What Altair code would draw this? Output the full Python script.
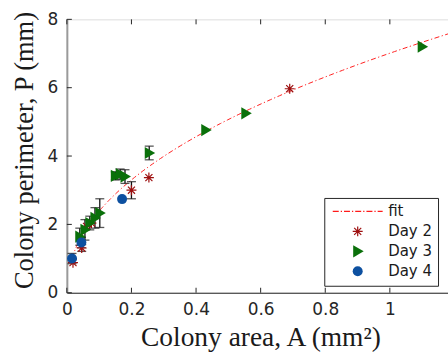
import altair as alt
import numpy as np
import pandas as pd

# ---------------- data ----------------
series_names = ["fit", "Day 2", "Day 3", "Day 4"]

day2_area = [0.019, 0.046, 0.061, 0.076, 0.200, 0.254, 0.690]
day2_perim = [0.88, 1.31, 1.94, 2.04, 3.00, 3.37, 5.97]
day2_err = [0.00, 0.10, 0.00, 0.00, 0.25, 0.00, 0.00]

day3_area = [0.040, 0.056, 0.071, 0.087, 0.102, 0.150, 0.165, 0.180, 0.255, 0.430, 0.554, 1.100]
day3_perim = [1.64, 1.84, 2.04, 2.19, 2.33, 3.42, 3.47, 3.40, 4.09, 4.76, 5.25, 7.20]
day3_err = [0.25, 0.30, 0.20, 0.30, 0.42, 0.12, 0.15, 0.20, 0.20, 0.00, 0.00, 0.00]

day4_area = [0.016, 0.045, 0.171]
day4_perim = [1.00, 1.47, 2.74]
day4_err = [0.15, 0.15, 0.00]

x_ticks = [0, 0.2, 0.4, 0.6, 0.8, 1.0]
y_ticks = [0, 2, 4, 6, 8]
x_domain = [0, 1.18]
y_domain = [0, 8]

# ---------------- tables ----------------
rows = []
for name, A, P, E in [("Day 2", day2_area, day2_perim, day2_err),
                      ("Day 3", day3_area, day3_perim, day3_err),
                      ("Day 4", day4_area, day4_perim, day4_err)]:
    for a, p, e in zip(A, P, E):
        rows.append({"series": name, "A": a, "P": p, "lo": p - e, "hi": p + e, "E": e})
df = pd.DataFrame(rows)
df_err = df[df["E"] > 0]
xt = pd.DataFrame({"v": x_ticks})
yt = pd.DataFrame({"v": y_ticks})

# power-law fit P = a * A^b, least squares in linear space (Gauss-Newton on the data)
Aall = df["A"].to_numpy()
Pall = df["P"].to_numpy()
b_fit, loga = np.polyfit(np.log(Aall), np.log(Pall), 1)
a_fit = float(np.exp(loga))
for _ in range(200):
    f = a_fit * Aall ** b_fit
    J = np.column_stack([Aall ** b_fit, a_fit * Aall ** b_fit * np.log(Aall)])
    step = np.linalg.lstsq(J, Pall - f, rcond=None)[0]
    a_fit += step[0]
    b_fit += step[1]
fit_A = np.geomspace(Aall.min(), x_domain[1], 200)
fit_df = pd.DataFrame({"A": fit_A, "P": a_fit * fit_A ** b_fit})

# ---------------- marker shapes (style) ----------------
def rect_path(pts):
    return "M" + "L".join(f"{x:.3f},{y:.3f}" for x, y in pts) + "Z"

w = 0.12
r2 = 2 ** 0.5
arm = [(-1, -w), (1, -w), (1, w), (-1, w)]
asterisk = "".join([
    rect_path(arm),
    rect_path([(-y, x) for x, y in arm]),
    rect_path([((x - y) / r2, (x + y) / r2) for x, y in arm]),
    rect_path([((x + y) / r2, (-x + y) / r2) for x, y in arm]),
])
triangle = "M-0.9,-1.22L1.2,0L-0.9,1.22Z"
circle = "circle"

# dash-dot legend line; symbol unit = 5 px, spans -5..5 (50 px)
h = 0.13
segs = []
pos = -5.0
pattern = [(1.2, True), (0.4, False), (0.25, True), (0.4, False)]
i = 0
while pos < 5.0:
    length, on = pattern[i % 4]
    end = min(pos + length, 5.0)
    if on:
        segs.append(rect_path([(pos, -h), (end, -h), (end, h), (pos, h)]))
    pos = end
    i += 1
dashdot = "".join(segs)

colors = ["#ff1a1a", "#9e1010", "#0a700a", "#0d50a0"]
shapes = [dashdot, asterisk, triangle, circle]

legend = alt.Legend(
    title=None, orient="none", legendX=258, legendY=179,
    fillColor="white", strokeColor="#262626", padding=6,
    labelFont="DejaVu Sans", labelFontSize=15, labelColor="#1a1a1a",
    symbolSize=100, symbolOffset=20, labelOffset=23,
    rowPadding=4, clipHeight=15, symbolStrokeWidth=0, symbolOpacity=1,
)

TXT = "#262626"

x_axis = alt.Axis(
    values=x_ticks, format="~g", ticks=False, grid=False,
    labelFont="DejaVu Sans", labelFontSize=17, labelColor=TXT, labelPadding=9,
    labelFlush=False, labelOverlap=False, domainColor=TXT, domainWidth=1,
    title="Colony area, A (mm²)", titleFont="Liberation Serif", titleFontSize=27.5,
    titleFontWeight="normal", titleColor="#1a1a1a", titleX=194, titleY=53,
    titleAlign="center", titleBaseline="alphabetic",
)
y_axis = alt.Axis(
    values=y_ticks, ticks=False, grid=False,
    labelFont="DejaVu Sans", labelFontSize=17, labelColor=TXT, labelPadding=9,
    labelFlush=False, labelOverlap=False, domainColor="#9a9a9a", domainWidth=2,
    title="Colony perimeter, P (mm)", titleFont="Liberation Serif", titleFontSize=26.5,
    titleFontWeight="normal", titleColor="#1a1a1a", titleX=-34, titleY=131,
    titleAngle=270, titleAlign="center", titleBaseline="alphabetic",
)

xs = alt.Scale(domain=x_domain, nice=False, zero=False)
ys = alt.Scale(domain=y_domain, nice=False, zero=False)

fit = alt.Chart(fit_df).mark_line(
    color="#ff2020", strokeWidth=1, strokeDash=[5, 2.5, 1.2, 2.5], clip=True
).encode(
    x=alt.X("A:Q", scale=xs, axis=x_axis),
    y=alt.Y("P:Q", scale=ys, axis=y_axis),
)

bars = alt.Chart(df_err).mark_rule(color="#111111", strokeWidth=1.3).encode(
    x=alt.X("A:Q", scale=xs, axis=x_axis),
    y=alt.Y("lo:Q", scale=ys, axis=y_axis),
    y2="hi:Q",
)
cap_lo = alt.Chart(df_err).mark_tick(color="#111111", orient="horizontal", size=9, thickness=1.3).encode(
    x=alt.X("A:Q", scale=xs, axis=x_axis),
    y=alt.Y("lo:Q", scale=ys, axis=y_axis),
)
cap_hi = alt.Chart(df_err).mark_tick(color="#111111", orient="horizontal", size=9, thickness=1.3).encode(
    x=alt.X("A:Q", scale=xs, axis=x_axis),
    y=alt.Y("hi:Q", scale=ys, axis=y_axis),
)

points = alt.Chart(df).mark_point(filled=True, opacity=1, size=100).encode(
    x=alt.X("A:Q", scale=xs, axis=x_axis),
    y=alt.Y("P:Q", scale=ys, axis=y_axis),
    color=alt.Color("series:N", scale=alt.Scale(domain=series_names, range=colors), legend=legend),
    shape=alt.Shape("series:N", scale=alt.Scale(domain=series_names, range=shapes), legend=legend),
)

xtick_bottom = alt.Chart(xt).mark_rule(color=TXT, strokeWidth=1).encode(
    x=alt.X("v:Q", scale=xs, axis=x_axis), y=alt.value(274), y2=alt.value(269))
xtick_top = alt.Chart(xt).mark_rule(color=TXT, strokeWidth=1).encode(
    x=alt.X("v:Q", scale=xs, axis=x_axis), y=alt.value(0), y2=alt.value(5))
ytick_left = alt.Chart(yt).mark_rule(color=TXT, strokeWidth=1).encode(
    y=alt.Y("v:Q", scale=ys, axis=y_axis), x=alt.value(0), x2=alt.value(5))

chart = alt.layer(
    xtick_bottom, xtick_top, ytick_left, fit, bars, cap_lo, cap_hi, points
).properties(
    width=382, height=274,
    autosize=alt.AutoSizeParams(type="none"),
    padding={"left": 67, "top": 19, "right": 0, "bottom": 61},
).configure_view(
    stroke=TXT, strokeWidth=1,
).configure(background="white")

chart.save("out.html", embed_options={"renderer": "svg", "actions": False})
